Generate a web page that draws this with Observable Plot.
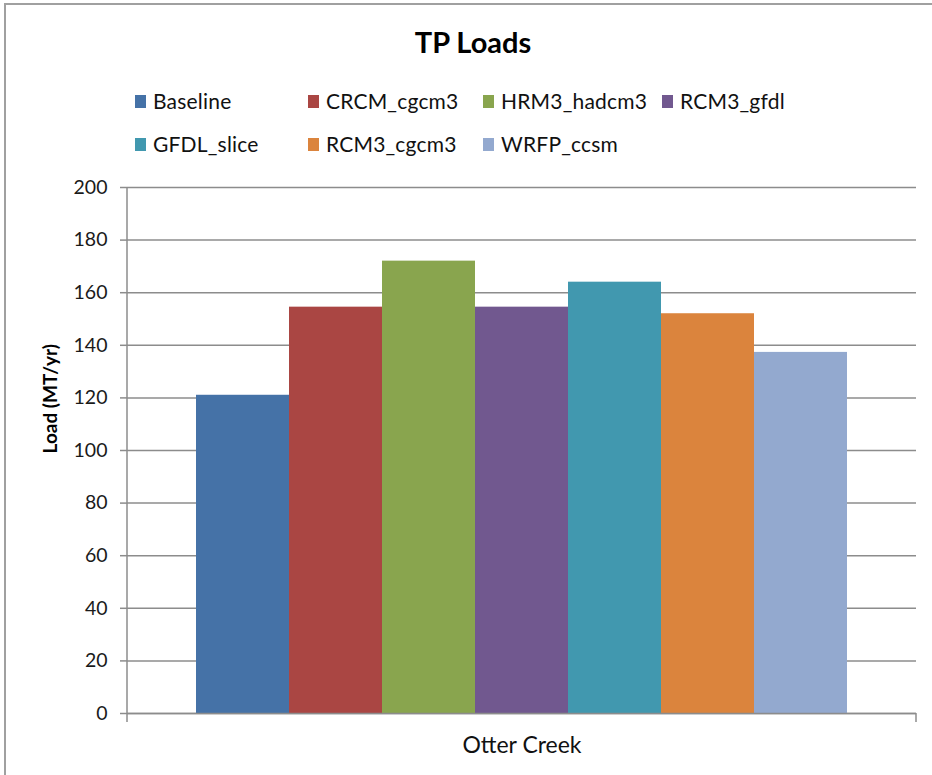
<!DOCTYPE html>
<html>
<head>
<meta charset="utf-8">
<script src="https://cdn.jsdelivr.net/npm/d3@7"></script>
<script src="https://cdn.jsdelivr.net/npm/@observablehq/plot@0.6"></script>
<style>
  html, body { margin: 0; padding: 0; background: #fff; overflow: hidden; }
  body { width: 932px; height: 775px; position: relative; font-family: Lato, "Open Sans", sans-serif; }
  #frame { position: absolute; left: 4px; top: 3px; width: 2000px; height: 2000px; border-left: 2px solid #a0a0a0; border-top: 2px solid #a0a0a0; }
  #title { position: absolute; left: 0; top: 24px; width: 946px; text-align: center; font-size: 29px; line-height: 36px; font-weight: bold; color: #000; }
  #legend { position: absolute; left: 0; top: 0; }
  .item { position: absolute; display: flex; align-items: center; font-size: 21px; line-height: 26px; height: 26px; color: #111; white-space: nowrap; letter-spacing: 0.2px; }
  .sw { width: 11px; height: 13px; margin-right: 7px; }
  #chart { position: absolute; left: 0; top: 170px; }
</style>
</head>
<body>
<div id="frame"></div>
<div id="title">TP Loads</div>
<div id="legend"></div>
<div id="chart"></div>
<script>
const category = "Otter Creek";
const series = ["Baseline", "CRCM_cgcm3", "HRM3_hadcm3", "RCM3_gfdl", "GFDL_slice", "RCM3_cgcm3", "WRFP_ccsm"];
const values = [121, 154.5, 172, 154.5, 164, 152, 137.3];
const colors = ["#4572A7", "#AA4643", "#89A54E", "#71588F", "#4198AF", "#DB843D", "#93A9CF"];
const yTicks = [0, 20, 40, 60, 80, 100, 120, 140, 160, 180, 200];
const yLabel = "Load (MT/yr)";

// legend layout (columns x, rows y)
const legendCols = [135, 308, 483, 662];
const legendRows = [101, 144];
const legend = document.getElementById("legend");
series.forEach((s, i) => {
  const row = i < 4 ? 0 : 1;
  const col = i < 4 ? i : i - 4;
  const el = document.createElement("div");
  el.className = "item";
  el.style.left = legendCols[col] + "px";
  el.style.top = (legendRows[row] - 13) + "px";
  el.innerHTML = `<span class="sw" style="background:${colors[i]}"></span><span>${s}</span>`;
  legend.appendChild(el);
});

const data = series.map((s, i) => ({series: s, value: values[i]}));

const W = 932, H = 605, mL = 127, mR = 16, mT = 17, mB = 62;

const chart = Plot.plot({
  width: W,
  height: H,
  marginLeft: mL,
  marginRight: mR,
  marginTop: mT,
  marginBottom: mB,
  style: {fontFamily: "Lato, 'Open Sans', sans-serif", background: "transparent"},
  x: {domain: series, paddingInner: 0, paddingOuter: 0.73, axis: null},
  y: {domain: [0, 200], ticks: yTicks, label: null},
  color: {domain: series, range: colors},
  marks: [
    Plot.gridY(yTicks, {stroke: "#8c8c8c", strokeOpacity: 1, strokeWidth: 1.5}),
    Plot.axisY(yTicks, {tickSize: 7, tickPadding: 13, stroke: "#8c8c8c", strokeWidth: 1.5, fontSize: 19.5, fill: "#1a1a1a", label: null}),
    Plot.barY(data, {x: "series", y: "value", fill: "series"}),
    Plot.ruleY([0], {stroke: "#8c8c8c", strokeWidth: 1.5}),
    // axis lines and category boundary ticks
    (index, scales, vals, dim) => {
      const g = d3.create("svg:g").attr("stroke", "#8c8c8c").attr("stroke-width", 1.5).attr("fill", "none");
      const y0 = scales.y(0), yTop = scales.y(200);
      const xl = dim.marginLeft, xr = dim.width - dim.marginRight;
      g.append("path").attr("d", `M${xl},${yTop}V${y0 + 9}`);
      g.append("path").attr("d", `M${xr},${y0}V${y0 + 9}`);
      return g.node();
    },
    Plot.text([category], {frameAnchor: "bottom", dy: 39, fontSize: 23, fill: "#111"}),
    Plot.text([yLabel], {frameAnchor: "left", rotate: -90, dx: -77, dy: 3, fontSize: 19, fontWeight: "bold", fill: "#000"})
  ]
});
document.getElementById("chart").appendChild(chart);
</script>
</body>
</html>
